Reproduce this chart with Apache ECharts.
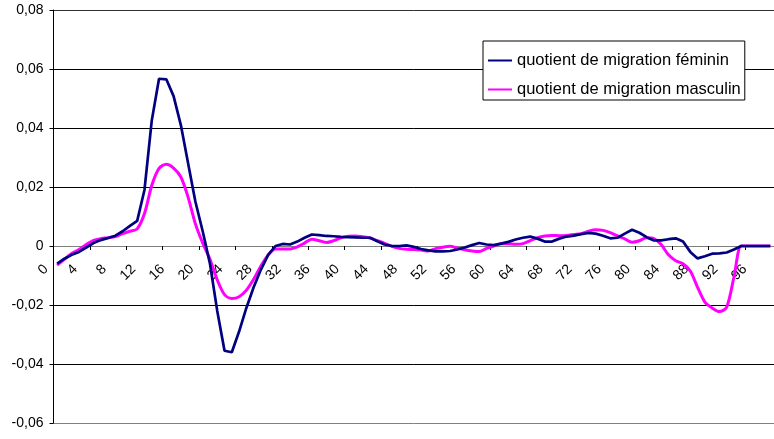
<!DOCTYPE html>
<html><head><meta charset="utf-8">
<script src="https://cdn.jsdelivr.net/npm/echarts@6/dist/echarts.min.js"></script>
<style>html,body{margin:0;padding:0;background:#fff}#c{width:774px;height:439px}</style>
</head><body><div id="c"></div>
<script>
// ages 0..98
const ages = Array.from({length: 99}, (_, i) => String(i));
const feminin = [
 -0.006,-0.0043,-0.003,-0.002,-0.0005,0.001,0.002,0.0027,0.0035,0.005,
 0.0068,0.0085,0.019,0.0425,0.0567,0.0565,0.0508,0.041,0.028,0.015,
 0.005,-0.006,-0.022,-0.0355,-0.036,-0.029,-0.021,-0.014,-0.008,-0.003,
 0,0.0007,0.0005,0.0015,0.0028,0.0039,0.0037,0.0034,0.0033,0.0031,
 0.003,0.0029,0.0028,0.0028,0.0016,0.0005,0,0,0.0002,-0.0003,
 -0.001,-0.0015,-0.0018,-0.0018,-0.0017,-0.0012,-0.0005,0.0003,0.001,0.0005,
 0.0003,0.0008,0.0014,0.0022,0.0028,0.0032,0.0025,0.0015,0.0015,0.0025,
 0.0032,0.0035,0.004,0.0044,0.0042,0.0035,0.0026,0.0028,0.0042,0.0055,
 0.0045,0.003,0.0019,0.0019,0.0023,0.0026,0.0015,-0.002,-0.0042,-0.0035,
 -0.0026,-0.0025,-0.0022,-0.0012,0,0,0,0,0
];
const masculin = [
 -0.0065,-0.0045,-0.0025,-0.0012,0.0005,0.0019,0.0025,0.0028,0.0032,0.0042,
 0.005,0.0058,0.011,0.0205,0.0263,0.0277,0.0264,0.0234,0.0165,0.0075,
 0.001,-0.0045,-0.0115,-0.0165,-0.0178,-0.0172,-0.015,-0.0113,-0.0068,-0.003,
 -0.001,-0.001,-0.001,-0.0003,0.001,0.0023,0.0018,0.0012,0.0018,0.0028,
 0.0033,0.0034,0.0031,0.0027,0.0018,0.0009,-0.0001,-0.0008,-0.0011,-0.0012,
 -0.0014,-0.0017,-0.0009,-0.0004,-0.0001,-0.0007,-0.0013,-0.0017,-0.0019,-0.0008,
 0,0.0008,0.0008,0.0006,0.0008,0.0018,0.0028,0.0034,0.0036,0.0035,
 0.0036,0.0039,0.0042,0.005,0.0055,0.0053,0.0045,0.0034,0.0024,0.0013,
 0.0018,0.0028,0.0025,0.0005,-0.003,-0.005,-0.006,-0.0085,-0.014,-0.019,
 -0.021,-0.0222,-0.0207,-0.0105,0,0,0,0,0
];
const seriesNames = ['quotient de migration féminin', 'quotient de migration masculin'];
const yMin = -0.06, yMax = 0.08, yStep = 0.02;

const W = 774, H = 439;
const gridTop = 10, gridBottom = 16;
const plotH = H - gridTop - gridBottom;
// place the category axis where the value axis crosses zero
const xAxisOffset = -((0 - yMin) / (yMax - yMin)) * plotH;

const chart = echarts.init(document.getElementById('c'), null, {renderer: 'canvas'});
const font = 'Liberation Sans, Arial, sans-serif';
chart.setOption({
  animation: false,
  backgroundColor: '#fff',
  grid: {left: 53.5, right: 0, top: gridTop, bottom: gridBottom, containLabel: false},
  legend: {
    orient: 'vertical', left: 483, top: 41,
    padding: [11, 4, 2, 4], itemGap: 12, itemWidth: 24, itemHeight: 14,
    backgroundColor: '#fff', borderColor: '#000', borderWidth: 1, borderRadius: 0,
    itemStyle: {opacity: 0},
    textStyle: {fontFamily: font, fontSize: 16.5, lineHeight: 14, color: '#000'},
    data: seriesNames
  },
  xAxis: {
    type: 'category', data: ages, boundaryGap: true,
    position: 'bottom', offset: xAxisOffset,
    axisLine: {onZero: false, lineStyle: {color: '#808080', width: 1}},
    axisTick: {show: true, interval: 4, length: 4, inside: false, lineStyle: {color: '#000'}},
    axisLabel: {interval: 3, rotate: 45, margin: 10,
      formatter: v => v + '\u00a0\u00a0\u00a0\u00a0',
      fontFamily: font, fontSize: 14, color: '#000', hideOverlap: false},
    splitLine: {show: false}
  },
  yAxis: {
    type: 'value', min: yMin, max: yMax, interval: yStep,
    axisLine: {show: true, lineStyle: {color: '#000', width: 1}},
    axisTick: {show: true, length: 4, lineStyle: {color: '#000'}},
    axisLabel: {margin: 10, fontFamily: font, fontSize: 14, color: '#000',
      formatter: v => Math.abs(v) < 1e-9 ? '0' : v.toFixed(2).replace('.', ',')},
    splitLine: {show: true, lineStyle: {width: 1,
      color: ['#808080', '#000', '#000', '#808080', '#000', '#000', '#000', '#303030']}}
  },
  series: [
    {name: seriesNames[0], type: 'line', data: feminin, symbol: 'none', smooth: false,
      lineStyle: {color: '#000080', width: 2.7}, itemStyle: {color: '#000080'}, z: 3},
    {name: seriesNames[1], type: 'line', data: masculin, symbol: 'none', smooth: 0.3,
      lineStyle: {color: '#FF00FF', width: 3}, itemStyle: {color: '#FF00FF'}, z: 2}
  ]
});
</script></body></html>
